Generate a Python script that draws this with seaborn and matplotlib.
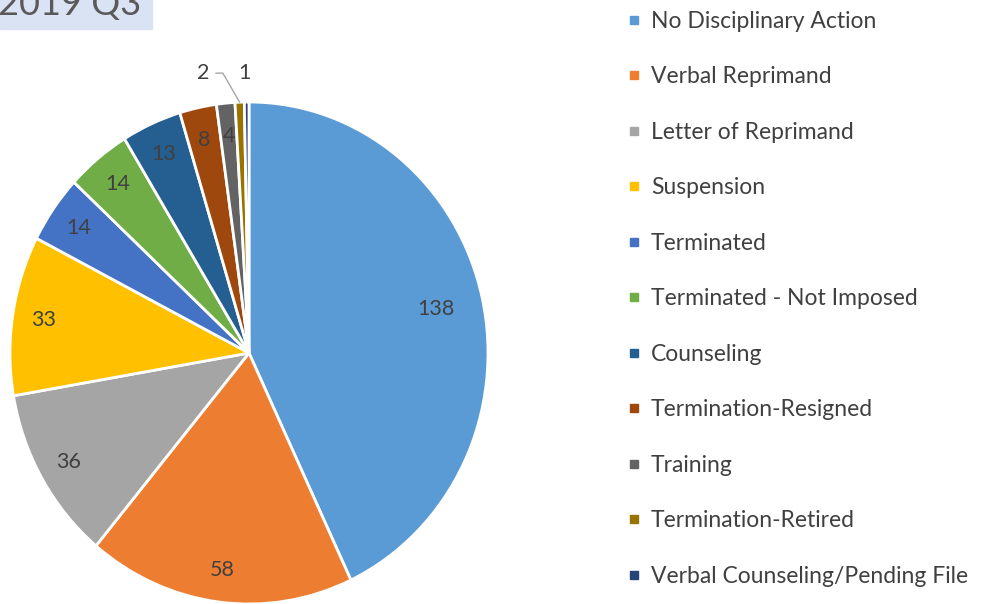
import numpy as np
import pandas as pd
import matplotlib
matplotlib.use("Agg")
import matplotlib.pyplot as plt
import seaborn as sns
from matplotlib.lines import Line2D
from matplotlib.patches import Rectangle

categories = ["No Disciplinary Action", "Verbal Reprimand", "Letter of Reprimand",
              "Suspension", "Terminated", "Terminated - Not Imposed", "Counseling",
              "Termination-Resigned", "Training", "Termination-Retired",
              "Verbal Counseling/Pending File"]
counts = [138, 58, 36, 33, 14, 14, 13, 8, 4, 2, 1]
title = "2019 Q3"

df = pd.DataFrame({"action": categories, "count": counts})

sns.set_theme(style="white")
plt.rcParams["font.family"] = ["Lato", "DejaVu Sans"]

colors = sns.color_palette(["#5B9BD5", "#ED7D31", "#A5A5A5", "#FFC000", "#4472C4",
                            "#70AD47", "#255E91", "#9E480E", "#636363", "#997300",
                            "#264478"])
txt = "#404040"

fig = plt.figure(figsize=(9.84, 6.04), dpi=100)
ax = fig.add_axes([10 / 984, 0, 478 / 984, 502 / 604])

wedges, _ = ax.pie(df["count"], colors=colors, startangle=90, counterclock=False,
                   wedgeprops=dict(edgecolor="white", linewidth=2))
ax.set_aspect("auto")
ax.set_xlim(-1, 1)
ax.set_ylim(-1, 1)

# data labels
for i, (w, v) in enumerate(zip(wedges, df["count"])):
    mid = np.deg2rad((w.theta1 + w.theta2) / 2)
    if v >= 4:
        r = 0.8 if i == 0 else 0.87
        ax.text(r * np.cos(mid), r * np.sin(mid), str(v), ha="center", va="center",
                fontsize=15.5, color=txt)
# small slices get labels outside
w = wedges[-2]
mid = np.deg2rad((w.theta1 + w.theta2) / 2)
ax.annotate(str(df["count"].iloc[-2]), xy=(np.cos(mid), np.sin(mid)),
            xytext=(-0.19, 1.115), ha="center", va="center", fontsize=15.5, color=txt,
            annotation_clip=False,
            arrowprops=dict(arrowstyle="-", color="#a6a6a6", lw=1,
                            connectionstyle="angle,angleA=0,angleB=120,rad=0",
                            shrinkA=2, shrinkB=0))
w = wedges[-1]
mid = np.deg2rad((w.theta1 + w.theta2) / 2)
ax.text(np.cos(mid) - 0.01, 1.115, str(df["count"].iloc[-1]), ha="center", va="center",
        fontsize=15.5, color=txt, clip_on=False)

# title box, cut off at top as in the source
fig.patches.append(Rectangle((0, 1 - 29 / 604), 152 / 984, 29 / 604,
                             transform=fig.transFigure, color="#dae3f3", zorder=0))
fig.text(-0.002, 1 - 15 / 604, title, fontsize=26, color="#595959", va="baseline",
         ha="left")

handles = [Line2D([0], [0], marker="s", linestyle="", markersize=6,
                  markerfacecolor=c, markeredgecolor=c) for c in colors]
fig.legend(handles, categories, loc="upper left", bbox_to_anchor=(621 / 984, 1 - 4 / 604),
           frameon=False, fontsize=16.5, labelcolor=txt, handlelength=0.55,
           handletextpad=0.45, labelspacing=1.505, borderpad=0.3, borderaxespad=0)

fig.savefig("out.png", dpi=100)
